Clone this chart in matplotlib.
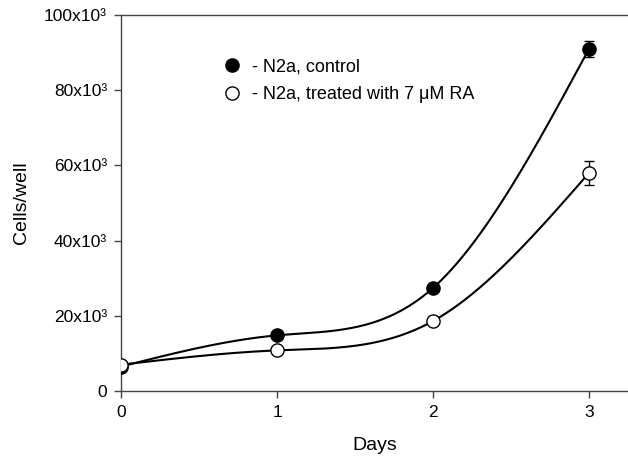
import numpy as np
import matplotlib
matplotlib.use('Agg')
import matplotlib.pyplot as plt
from matplotlib.lines import Line2D

plt.rcParams['font.family'] = ['Liberation Sans', 'DejaVu Sans']

# data
days = [0, 1, 2, 3]
control = [6500, 14800, 27400, 91000]
control_err = [400, 600, 1000, 2200]
treated = [7000, 10800, 18600, 58000]
treated_err = [400, 500, 700, 3200]

ytick_vals = [0, 20000, 40000, 60000, 80000, 100000]
ytick_labels = ['0', '20x10\u00b3', '40x10\u00b3', '60x10\u00b3', '80x10\u00b3', '100x10\u00b3']
labels = ['- N2a, control', '- N2a, treated with 7 \u03bcM RA']


def natural_spline(x, y, xs):
    # natural cubic spline through the points (like the SigmaPlot curve)
    x = np.asarray(x, float)
    y = np.asarray(y, float)
    n = len(x)
    h = np.diff(x)
    A = np.zeros((n, n))
    r = np.zeros(n)
    A[0, 0] = 1
    A[-1, -1] = 1
    for i in range(1, n - 1):
        A[i, i - 1] = h[i - 1]
        A[i, i] = 2 * (h[i - 1] + h[i])
        A[i, i + 1] = h[i]
        r[i] = 6 * ((y[i + 1] - y[i]) / h[i] - (y[i] - y[i - 1]) / h[i - 1])
    M = np.linalg.solve(A, r)
    out = np.empty_like(xs)
    for k, t in enumerate(xs):
        i = min(np.searchsorted(x, t, side='right') - 1, n - 2)
        a = x[i + 1] - t
        b = t - x[i]
        out[k] = (M[i] * a**3 + M[i + 1] * b**3) / (6 * h[i]) \
            + (y[i] / h[i] - M[i] * h[i] / 6) * a \
            + (y[i + 1] / h[i] - M[i + 1] * h[i] / 6) * b
    return out


fig = plt.figure(figsize=(6.28, 4.62), dpi=100)
ax = fig.add_axes([121 / 628, 71 / 462, 507 / 628, 376 / 462])

xs = np.linspace(days[0], days[-1], 300)
ax.plot(xs, natural_spline(days, control, xs), color='black', lw=1.5, zorder=2)
ax.plot(xs, natural_spline(days, treated, xs), color='black', lw=1.5, zorder=2)

ax.errorbar(days, control, yerr=control_err, fmt='o', ms=9.5, mfc='black',
            mec='black', mew=1, ecolor='black', elinewidth=1, capsize=3.5, zorder=3)
ax.errorbar(days, treated, yerr=treated_err, fmt='o', ms=9.5, mfc='white',
            mec='black', mew=1, ecolor='black', elinewidth=1, capsize=3.5, zorder=3)

ax.set_xlim(0, 507 / 156)
ax.set_ylim(0, 100000)
ax.set_xticks(days)
ax.set_yticks(ytick_vals)
ax.set_yticklabels(ytick_labels)
ax.tick_params(direction='out', length=5, width=1, color='#444444',
               labelsize=12.5, pad=5)

for s in ['left', 'bottom', 'top']:
    ax.spines[s].set_color('#444444')
    ax.spines[s].set_linewidth(1)
ax.spines['right'].set_visible(False)

ax.set_xlabel('Days', fontsize=14, labelpad=12)
ax.set_ylabel('Cells/well', fontsize=14, labelpad=10)

handles = [Line2D([], [], ls='none', marker='o', ms=9.5, mfc='black', mec='black'),
           Line2D([], [], ls='none', marker='o', ms=9.5, mfc='white', mec='black')]
ax.legend(handles, labels, loc='upper left', bbox_to_anchor=(223 / 628, 1 - 58 / 462),
          bbox_transform=fig.transFigure, frameon=False, fontsize=13,
          handlelength=1.0, handletextpad=0.6, labelspacing=0.6, borderpad=0,
          borderaxespad=0)

fig.savefig('out.png', dpi=100)
